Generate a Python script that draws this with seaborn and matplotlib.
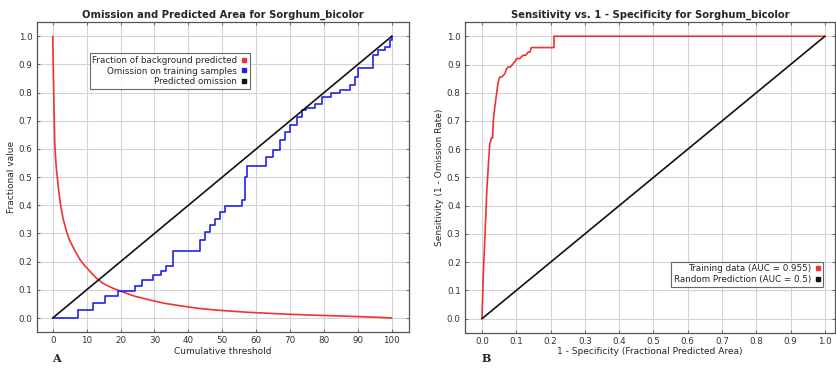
import numpy as np
import pandas as pd
import matplotlib
matplotlib.use('Agg')
import matplotlib.pyplot as plt
from matplotlib.lines import Line2D
import seaborn as sns

sns.set_style('whitegrid', {'grid.color': '#d4d4d4', 'axes.edgecolor': '#555555'})
plt.rcParams['font.family'] = ['DejaVu Sans']

# panel A - omission and predicted area
bg_thresh = [0, 0.3, 0.6, 1.0, 1.6, 2.2, 3.0, 4.0, 5.0, 6.5, 8.0, 9.5, 11.4, 13.0, 14.8,
             17.5, 20.3, 24.0, 28.6, 33.0, 38.4, 43.0, 48.3, 53.0, 58.0, 65.0, 70.0,
             75.0, 80.0, 85.0, 90.0, 95.0, 100.0]
bg_frac = [1.0, 0.8, 0.62, 0.54, 0.47, 0.41, 0.355, 0.31, 0.275, 0.24, 0.208, 0.185, 0.16,
           0.14, 0.123, 0.107, 0.094, 0.078, 0.064, 0.052, 0.042, 0.034, 0.028, 0.024,
           0.02, 0.016, 0.013, 0.011, 0.009, 0.007, 0.005, 0.003, 0.0]

om_thresh = [0, 7.5, 11.9, 15.3, 19.3, 24.2, 26.2, 29.6, 32.0, 33.5, 35.5, 42.4, 43.4, 44.8,
             46.3, 47.8, 49.3, 50.7, 54.7, 55.7, 56.6, 57.2, 62.5, 63.0, 65.0, 67.0, 68.4,
             70.0, 71.9, 73.4, 74.8, 77.3, 79.3, 82.2, 84.7, 87.6, 89.1, 90.1, 93.5, 94.5,
             96.0, 98.0, 99.4, 100.0]
om_rate = [0, 0.03, 0.055, 0.078, 0.097, 0.115, 0.135, 0.152, 0.167, 0.185, 0.238, 0.238,
           0.277, 0.306, 0.33, 0.353, 0.377, 0.397, 0.397, 0.418, 0.5, 0.54, 0.54, 0.572,
           0.596, 0.63, 0.66, 0.684, 0.714, 0.738, 0.746, 0.76, 0.785, 0.797, 0.809, 0.826,
           0.856, 0.886, 0.886, 0.933, 0.95, 0.962, 0.986, 1.0]

pred_thresh = [0, 100]
pred_om = [0, 1.0]

# panel B - ROC
fpr = [0, 0.004, 0.009, 0.014, 0.02, 0.023, 0.028, 0.031, 0.033, 0.038, 0.043, 0.047,
       0.052, 0.058, 0.067, 0.07, 0.076, 0.083, 0.091, 0.096, 0.101, 0.11, 0.12, 0.128,
       0.135, 0.14, 0.144, 0.21, 0.21, 1.0]
tpr = [0, 0.16, 0.3, 0.45, 0.57, 0.62, 0.64, 0.64, 0.70, 0.755, 0.80, 0.835, 0.856, 0.856,
       0.868, 0.88, 0.891, 0.891, 0.903, 0.91, 0.921, 0.921, 0.933, 0.933, 0.944, 0.944,
       0.96, 0.96, 1.0, 1.0]
rand_x = [0, 1.0]
rand_y = [0, 1.0]

red = '#ee3333'
blue = '#2222ee'
blk = '#111111'

fig = plt.figure(figsize=(8.36, 3.69), dpi=100)
axA = fig.add_axes([0.044, 0.100, 0.445, 0.840])
axB = fig.add_axes([0.556, 0.098, 0.443, 0.842])

sns.lineplot(x=bg_thresh, y=bg_frac, ax=axA, color=red, lw=1.2, estimator=None, sort=False)
sns.lineplot(x=om_thresh, y=om_rate, ax=axA, color=blue, lw=1.2, estimator=None, sort=False,
             drawstyle='steps-post')
sns.lineplot(x=pred_thresh, y=pred_om, ax=axA, color=blk, lw=1.2, estimator=None, sort=False)

sns.lineplot(x=fpr, y=tpr, ax=axB, color=red, lw=1.2, estimator=None, sort=False)
sns.lineplot(x=rand_x, y=rand_y, ax=axB, color=blk, lw=1.2, estimator=None, sort=False)

axA.set_xlim(-4.7, 105)
axA.set_ylim(-0.05, 1.05)
axA.set_xticks(np.arange(0, 101, 10))
axA.set_yticks(np.arange(0, 1.01, 0.1))
axA.set_title('Omission and Predicted Area for Sorghum_bicolor', fontsize=7.2, fontweight='bold', pad=3)
axA.set_xlabel('Cumulative threshold', fontsize=6.5, labelpad=1)
axA.set_ylabel('Fractional value', fontsize=6.5, labelpad=2)

axB.set_xlim(-0.05, 1.03)
axB.set_ylim(-0.05, 1.05)
axB.set_xticks(np.arange(0, 1.01, 0.1))
axB.set_yticks(np.arange(0, 1.01, 0.1))
axB.set_title('Sensitivity vs. 1 - Specificity for Sorghum_bicolor', fontsize=7.2, fontweight='bold', pad=3)
axB.set_xlabel('1 - Specificity (Fractional Predicted Area)', fontsize=6.5, labelpad=1)
axB.set_ylabel('Sensitivity (1 - Omission Rate)', fontsize=6.5, labelpad=2)

for ax in (axA, axB):
    ax.xaxis.set_major_formatter(matplotlib.ticker.FormatStrFormatter('%g') if ax is axA
                                 else matplotlib.ticker.FormatStrFormatter('%.1f'))
    ax.yaxis.set_major_formatter(matplotlib.ticker.FormatStrFormatter('%.1f'))
    ax.tick_params(labelsize=6.3, direction='in', length=2.5, width=0.6, pad=3,
                   top=True, right=True, bottom=True, left=True, colors='#555555',
                   labelcolor='#333333')
    ax.grid(True, lw=0.8)
    for s in ax.spines.values():
        s.set_linewidth(0.9)

def sq(c):
    return Line2D([], [], marker='s', color=c, ls='', markersize=3)

legA = axA.legend([sq(red), sq(blue), sq(blk)],
                  ['Fraction of background predicted', 'Omission on training samples',
                   'Predicted omission'],
                  loc='upper left', bbox_to_anchor=(0.142, 0.9), markerfirst=False,
                  fontsize=6.3, frameon=True, fancybox=False, handlelength=0.6,
                  handletextpad=0.5, borderpad=0.3, labelspacing=0.2, borderaxespad=0)
legA.get_frame().set_edgecolor('#444444')
legA.get_frame().set_linewidth(0.8)

legB = axB.legend([sq(red), sq(blk)],
                  ['Training data (AUC = 0.955)', 'Random Prediction (AUC = 0.5)'],
                  loc='lower right', bbox_to_anchor=(0.968, 0.148), markerfirst=False,
                  fontsize=6.3, frameon=True, fancybox=False, handlelength=0.6,
                  handletextpad=0.5, borderpad=0.3, labelspacing=0.2, borderaxespad=0)
legB.get_frame().set_edgecolor('#444444')
legB.get_frame().set_linewidth(0.8)

fig.text(0.062, 0.02, 'A', fontsize=8, fontweight='bold', family='serif')
fig.text(0.576, 0.02, 'B', fontsize=8, fontweight='bold', family='serif')

fig.savefig('out.png', dpi=100)
